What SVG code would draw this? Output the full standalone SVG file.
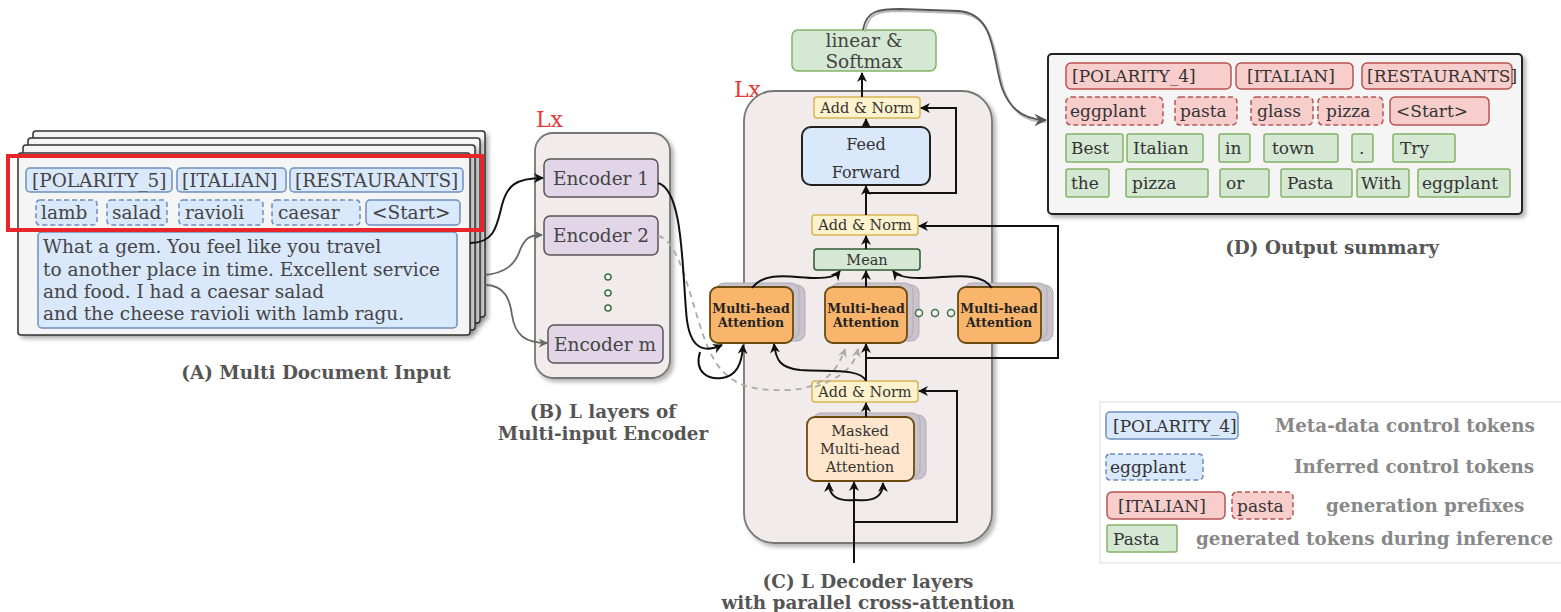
<svg xmlns="http://www.w3.org/2000/svg" width="1561" height="612" viewBox="0 0 1561 612">
<defs>
<style>
.t{font-family:"DejaVu Serif",serif;font-size:18.5px;fill:#444}
.td{font-family:"DejaVu Serif",serif;font-size:17px;fill:#333}
.c{text-anchor:middle}
.cap{font-family:"DejaVu Serif",serif;font-weight:bold;font-size:18.4px;fill:#555;text-anchor:middle}
.leg{font-family:"DejaVu Serif",serif;font-weight:bold;font-size:18.3px;fill:#888}
.lx{font-family:"DejaVu Serif",serif;font-size:22px;fill:#e23c3c}
.tb{fill:#dae8fc;stroke:#6c8ebf;stroke-width:1.5}
.tr{fill:#f8cecc;stroke:#b85450;stroke-width:1.5}
.tg{fill:#d5e8d4;stroke:#82b366;stroke-width:1.5}
.dash{stroke-dasharray:5 3}
.card{fill:#f5f5f5;stroke:#333;stroke-width:1.5}
.cont{fill:#f2ebeb;stroke:#777;stroke-width:1.8}
.enc{fill:#e1d5e7;stroke:#555;stroke-width:1.5}
.an{fill:#fff2cc;stroke:#d6b656;stroke-width:1.5}
.mean{fill:#d5e8d4;stroke:#2f5a2f;stroke-width:1.5}
.mha{fill:#f9b56c;stroke:#6b4a10;stroke-width:1.8}
.mhas{fill:#c9c3cc;stroke:#b0aab4;stroke-width:1}
.mask{fill:#ffe6cc;stroke:#6b4a10;stroke-width:1.8}
.ff{fill:#dae8fc;stroke:#222;stroke-width:2}
.dot{fill:#fff;stroke:#3f6e3f;stroke-width:1.5}
.mt{font-family:"DejaVu Serif",serif;font-size:14.5px;fill:#333;text-anchor:middle}
.mb{font-family:"DejaVu Serif",serif;font-weight:bold;font-size:12.5px;fill:#222;text-anchor:middle}
.k{fill:none;stroke:#111;stroke-width:2;marker-end:url(#ak)}
.g{fill:none;stroke:#666;stroke-width:1.8;marker-end:url(#ag)}
.gd{fill:none;stroke:#aaa;stroke-width:1.8;stroke-dasharray:6 5;marker-end:url(#agd)}
</style>
<marker id="ak" viewBox="0 0 10 10" refX="9" refY="5" markerWidth="5" markerHeight="5" orient="auto" markerUnits="strokeWidth"><path d="M0,0 L10,5 L0,10 L3,5 z" fill="#111"/></marker>
<marker id="ag" viewBox="0 0 10 10" refX="9" refY="5" markerWidth="5" markerHeight="5" orient="auto" markerUnits="strokeWidth"><path d="M0,0 L10,5 L0,10 L3,5 z" fill="#666"/></marker>
<marker id="agd" viewBox="0 0 10 10" refX="9" refY="5" markerWidth="5" markerHeight="5" orient="auto" markerUnits="strokeWidth"><path d="M0,0 L10,5 L0,10 L3,5 z" fill="#aaa"/></marker>
<marker id="ao" viewBox="0 0 12 12" refX="11" refY="6" markerWidth="7" markerHeight="7" orient="auto" markerUnits="strokeWidth"><path d="M0,0 L12,6 L0,12 L4,6 z" fill="#555"/></marker>
<filter id="sh" x="-10%" y="-10%" width="130%" height="130%"><feDropShadow dx="3" dy="3" stdDeviation="2" flood-color="#000" flood-opacity="0.3"/></filter>
</defs>
<rect width="1561" height="612" fill="#fff"/>

<g id="nodeA">
<rect class="card" x="33" y="131" width="452" height="186" rx="3" filter="url(#sh)"/>
<rect class="card" x="28" y="138" width="452" height="185" rx="3" filter="url(#sh)"/>
<rect class="card" x="23" y="145" width="452" height="185" rx="3" filter="url(#sh)"/>
<rect class="card" x="18" y="153" width="452" height="182" rx="3" filter="url(#sh)"/>
<rect class="tb" x="26" y="168" width="146" height="24" rx="4"/>
<text class="t" x="32" y="187">[POLARITY_5]</text>
<rect class="tb" x="177" y="168" width="109" height="24" rx="4"/>
<text class="t" x="182" y="187">[ITALIAN]</text>
<rect class="tb" x="290" y="168" width="173" height="24" rx="4"/>
<text class="t" x="295" y="187">[RESTAURANTS]</text>
<rect class="tb dash" x="36" y="200" width="61" height="25" rx="4"/>
<text class="t" x="41" y="219">lamb</text>
<rect class="tb dash" x="107" y="200" width="60" height="25" rx="4"/>
<text class="t" x="112" y="219">salad</text>
<rect class="tb dash" x="179" y="200" width="84" height="25" rx="4"/>
<text class="t" x="185" y="219">ravioli</text>
<rect class="tb dash" x="272" y="200" width="88" height="25" rx="4"/>
<text class="t" x="278" y="219">caesar</text>
<rect class="tb" x="366" y="200" width="94" height="25" rx="4"/>
<text class="t" x="372" y="219">&lt;Start&gt;</text>
<rect class="tb" x="38" y="232" width="419" height="96" rx="4"/>
<text class="t" x="43" y="253">What a gem. You feel like you travel</text>
<text class="t" x="43" y="276">to another place in time. Excellent service</text>
<text class="t" x="43" y="298">and food. I had a caesar salad</text>
<text class="t" x="43" y="320">and the cheese ravioli with lamb ragu.</text>
<rect x="8" y="156" width="474" height="74" fill="none" stroke="#e8262a" stroke-width="4"/>
<text class="cap" x="316" y="379">(A) Multi Document Input</text>
</g>

<g id="nodeB">
<text class="lx" x="536" y="127">Lx</text>
<rect class="cont" x="535" y="133" width="135" height="245" rx="18" filter="url(#sh)"/>
<rect class="enc" x="544" y="159" width="114" height="38" rx="6"/>
<text class="t c" x="601" y="185">Encoder 1</text>
<rect class="enc" x="544" y="216" width="114" height="39" rx="6"/>
<text class="t c" x="601" y="242">Encoder 2</text>
<circle class="dot" cx="608" cy="277" r="3"/>
<circle class="dot" cx="608" cy="293" r="3"/>
<circle class="dot" cx="608" cy="308" r="3"/>
<rect class="enc" x="548" y="325" width="115" height="38" rx="6"/>
<text class="t c" x="605" y="351">Encoder m</text>
<text class="cap" x="603" y="418">(B) L layers of</text>
<text class="cap" x="603" y="440">Multi-input Encoder</text>
</g>

<g id="nodeC">
<text class="lx" x="734" y="97">Lx</text>
<rect class="cont" x="744" y="91" width="248" height="452" rx="30" filter="url(#sh)"/>
<rect class="tg" x="792" y="30" width="144" height="41" rx="6"/>
<text class="t c" x="864" y="47">linear &amp;</text>
<text class="t c" x="864" y="68">Softmax</text>
<rect class="an" x="814" y="97" width="106" height="21" rx="3"/>
<text class="mt" x="867" y="113">Add &amp; Norm</text>
<rect class="ff" x="802" y="127" width="128" height="58" rx="9"/>
<text class="mt" x="866" y="150" style="font-size:16px">Feed</text>
<text class="mt" x="866" y="178" style="font-size:16px">Forward</text>
<rect class="an" x="812" y="215" width="106" height="20" rx="3"/>
<text class="mt" x="865" y="230">Add &amp; Norm</text>
<rect class="mean" x="814" y="249" width="106" height="21" rx="3"/>
<text class="mt" x="867" y="265">Mean</text>

<rect class="mhas" x="722" y="285" width="83" height="56" rx="8"/>
<rect class="mhas" x="716" y="283" width="83" height="56" rx="8"/>
<rect class="mha" x="710" y="287" width="83" height="56" rx="8"/>
<text class="mb" x="751" y="313">Multi-head</text>
<text class="mb" x="751" y="327">Attention</text>
<rect class="mhas" x="837" y="285" width="82" height="56" rx="8"/>
<rect class="mhas" x="831" y="283" width="82" height="56" rx="8"/>
<rect class="mha" x="825" y="287" width="82" height="56" rx="8"/>
<text class="mb" x="866" y="313">Multi-head</text>
<text class="mb" x="866" y="327">Attention</text>
<circle class="dot" cx="919" cy="313" r="3.5"/>
<circle class="dot" cx="935" cy="313" r="3.5"/>
<circle class="dot" cx="951" cy="313" r="3.5"/>
<rect class="mhas" x="970" y="285" width="83" height="56" rx="8"/>
<rect class="mhas" x="964" y="283" width="83" height="56" rx="8"/>
<rect class="mha" x="958" y="287" width="83" height="56" rx="8"/>
<text class="mb" x="999" y="313">Multi-head</text>
<text class="mb" x="999" y="327">Attention</text>

<rect class="an" x="812" y="381" width="106" height="21" rx="3"/>
<text class="mt" x="865" y="397">Add &amp; Norm</text>
<rect class="mhas" x="819" y="415" width="107" height="64" rx="8"/>
<rect class="mhas" x="813" y="413" width="107" height="64" rx="8"/>
<rect class="mask" x="807" y="417" width="107" height="64" rx="8"/>
<text class="mt" x="860" y="436">Masked</text>
<text class="mt" x="860" y="454">Multi-head</text>
<text class="mt" x="860" y="472">Attention</text>
<text class="cap" x="868" y="588">(C) L Decoder layers</text>
<text class="cap" x="868" y="609">with parallel cross-attention</text>
</g>

<g id="nodeD">
<rect x="1048" y="54" width="474" height="160" rx="4" fill="#f5f5f5" stroke="#222" stroke-width="2" filter="url(#sh)"/>
<rect class="tr" x="1066" y="63" width="165" height="26" rx="5"/>
<text class="td" x="1072" y="82">[POLARITY_4]</text>
<rect class="tr" x="1236" y="63" width="117" height="26" rx="5"/>
<text class="td" x="1247" y="82">[ITALIAN]</text>
<rect class="tr" x="1362" y="63" width="150" height="26" rx="5"/>
<text class="td" x="1367" y="82">[RESTAURANTS]</text>
<rect class="tr dash" x="1066" y="97" width="97" height="28" rx="5"/>
<text class="td" x="1070" y="117">eggplant</text>
<rect class="tr dash" x="1175" y="97" width="62" height="28" rx="5"/>
<text class="td" x="1180" y="117">pasta</text>
<rect class="tr dash" x="1251" y="97" width="62" height="28" rx="5"/>
<text class="td" x="1257" y="117">glass</text>
<rect class="tr dash" x="1318" y="97" width="65" height="28" rx="5"/>
<text class="td" x="1326" y="117">pizza</text>
<rect class="tr" x="1390" y="97" width="99" height="28" rx="5"/>
<text class="td" x="1396" y="117">&lt;Start&gt;</text>
<rect class="tg" x="1066" y="134" width="57" height="28" rx="2"/>
<text class="td" x="1071" y="154">Best</text>
<rect class="tg" x="1127" y="134" width="76" height="28" rx="2"/>
<text class="td" x="1133" y="154">Italian</text>
<rect class="tg" x="1219" y="134" width="31" height="28" rx="2"/>
<text class="td" x="1225" y="154">in</text>
<rect class="tg" x="1264" y="134" width="74" height="28" rx="2"/>
<text class="td" x="1272" y="154">town</text>
<rect class="tg" x="1352" y="134" width="21" height="28" rx="2"/>
<text class="td" x="1359" y="154">.</text>
<rect class="tg" x="1393" y="134" width="62" height="28" rx="2"/>
<text class="td" x="1400" y="154">Try</text>
<rect class="tg" x="1066" y="169" width="43" height="28" rx="2"/>
<text class="td" x="1071" y="189">the</text>
<rect class="tg" x="1126" y="169" width="82" height="28" rx="2"/>
<text class="td" x="1132" y="189">pizza</text>
<rect class="tg" x="1220" y="169" width="49" height="28" rx="2"/>
<text class="td" x="1226" y="189">or</text>
<rect class="tg" x="1281" y="169" width="71" height="28" rx="2"/>
<text class="td" x="1287" y="189">Pasta</text>
<rect class="tg" x="1357" y="169" width="52" height="28" rx="2"/>
<text class="td" x="1361" y="189">With</text>
<rect class="tg" x="1418" y="169" width="92" height="28" rx="2"/>
<text class="td" x="1422" y="189">eggplant</text>
<text class="cap" x="1332" y="254">(D) Output summary</text>
</g>

<g id="legend">
<rect x="1100" y="402" width="470" height="161" fill="#fff" stroke="#ddd" stroke-width="1"/>
<rect class="tb" x="1106" y="412" width="132" height="27" rx="4"/>
<text class="td" x="1113" y="432">[POLARITY_4]</text>
<text class="leg" x="1275" y="432">Meta-data control tokens</text>
<rect class="tb dash" x="1106" y="454" width="97" height="26" rx="4"/>
<text class="td" x="1110" y="473">eggplant</text>
<text class="leg" x="1294" y="473">Inferred control tokens</text>
<rect class="tr" x="1107" y="492" width="118" height="27" rx="5"/>
<text class="td" x="1118" y="512">[ITALIAN]</text>
<rect class="tr dash" x="1232" y="492" width="61" height="27" rx="5"/>
<text class="td" x="1237" y="512">pasta</text>
<text class="leg" x="1326" y="512">generation prefixes</text>
<rect class="tg" x="1107" y="525" width="70" height="27" rx="2"/>
<text class="td" x="1113" y="545">Pasta</text>
<text class="leg" x="1196" y="545">generated tokens during inference</text>
</g>

<g id="connectors">
<path d="M470,243 C495,243 497,225 502,205 C507,186 515,178 543,178" class="k"/>
<path d="M485,275 C505,273 515,265 520,250 C525,238 530,235 542,235" class="g"/>
<path d="M485,285 C505,285 510,300 512,315 C515,335 525,343 547,343" class="g"/>
<path d="M658,236 C680,240 690,300 705,340 C720,380 740,392 790,390 C820,388 836,375 845,349" class="gd"/>
<path d="M815,387 C840,378 854,368 858,349" class="gd"/>
<path d="M658,183 C682,190 682,260 686,310 C688,345 700,355 722,345" class="k"/>
<path d="M700,352 C694,372 708,380 722,378 C736,376 742,365 743,345" class="k"/>
<path d="M752,288 C765,270 795,278 815,278 C830,278 836,276 840,271" class="k"/>
<path d="M866,287 L866,271" class="k"/>
<path d="M992,288 C980,270 950,278 920,278 C905,278 897,276 893,271" class="k"/>
<path d="M866,249 L866,236" class="k"/>
<path d="M866,215 L866,186" class="k"/>
<path d="M866,193 L956,193 L956,108 L921,108" class="k"/>
<path d="M866,127 L866,119" class="k"/>
<path d="M862,97 L862,73" class="k"/>
<path d="M866,417 L866,403" class="k"/>
<path d="M866,381 L866,344" class="k"/>
<path d="M866,358 L1058,358 L1058,226 L919,226" class="k"/>
<path d="M866,381 C860,368 830,372 800,370 C780,368 776,360 774,344" class="k"/>
<path d="M854,563 L854,482" class="k"/>
<path d="M854,522 L957,522 L957,391 L919,391" class="k"/>
<path d="M856,500 C836,502 829,495 829,483" class="k"/>
<path d="M856,500 C876,502 883,495 883,483" class="k"/>
<path d="M865,32 C868,12 880,11 900,11 L958,13 C998,15 994,60 1004,90 C1012,112 1025,122 1046,122" fill="none" stroke="#bbb" stroke-width="2"/>
<path d="M863,30 C866,10 880,9 900,9 L958,11 C996,13 992,58 1002,88 C1010,110 1025,120 1046,120" fill="none" stroke="#555" stroke-width="1.8" marker-end="url(#ao)"/>
</g>
</svg>
